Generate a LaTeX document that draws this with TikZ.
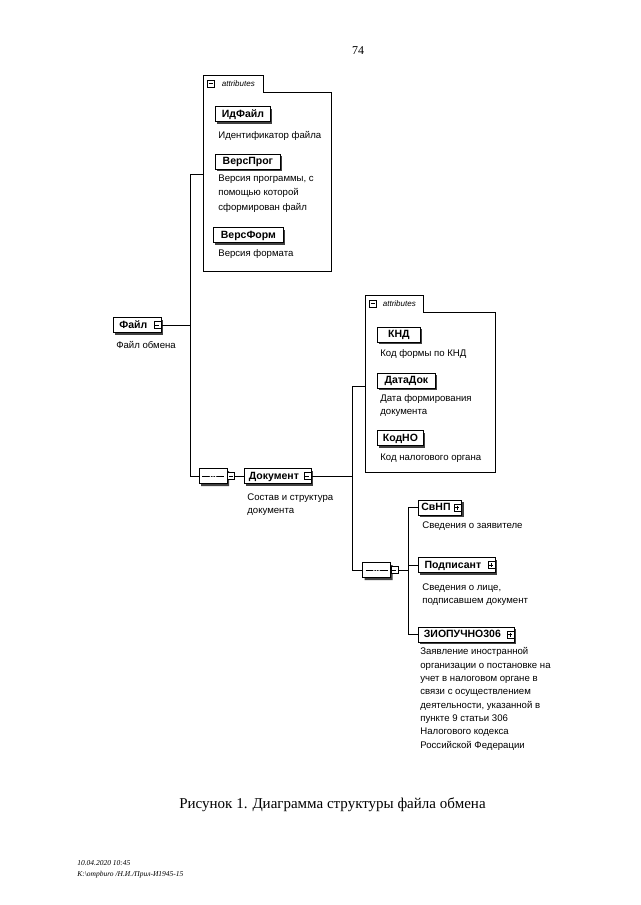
\documentclass[tikz,border=0pt]{standalone}
\usepackage{fontspec}
\setmainfont{Liberation Serif}
\newfontfamily\diagfont{Liberation Sans}
\usetikzlibrary{shapes.misc,shadows}
\begin{document}
\begin{tikzpicture}[x=1pt,y=-1pt,line width=0.7pt,
  elem/.style={draw, fill=white, font=\diagfont\bfseries\fontsize{10.5}{12}\selectfont, inner xsep=3pt, inner ysep=0pt, text height=8.3pt, text depth=1.5pt, minimum height=15pt, anchor=west, line width=0.8pt, drop shadow={shadow xshift=2pt,shadow yshift=-2pt,fill=black!75,opacity=1}},
  desc/.style={font=\diagfont\fontsize{9.6}{13.5}\selectfont, align=left, anchor=base west, inner sep=0pt},
  icon/.style={draw, fill=white, minimum size=7pt, inner sep=0pt, line width=0.5pt},
  minusicon/.style={icon, path picture={\draw[line width=0.5pt] ([xshift=1.5pt]path picture bounding box.west) -- ([xshift=-1.5pt]path picture bounding box.east);}},
  plusicon/.style={icon, path picture={\draw[line width=0.5pt] ([xshift=1.5pt]path picture bounding box.west) -- ([xshift=-1.5pt]path picture bounding box.east) ([yshift=-1.5pt]path picture bounding box.north) -- ([yshift=1.5pt]path picture bounding box.south);}},
  grp/.style={anchor=north west, inner sep=0pt},
  tab/.style={anchor=south west, inner sep=0pt, minimum height=16pt, font=\diagfont\itshape\fontsize{8}{9}\selectfont},
  grpline/.style={line width=0.7pt},
  seq/.style={chamfered rectangle, chamfered rectangle xsep=4pt, draw, fill=white, minimum width=28pt, minimum height=15pt, inner sep=0pt, line width=0.8pt, drop shadow={shadow xshift=2pt,shadow yshift=-2.5pt,fill=black!75,opacity=1}, path picture={\draw[line width=0.5pt] ([xshift=3pt]path picture bounding box.west) -- ([xshift=-3pt]path picture bounding box.east); \foreach \d in {-2.6,0,2.6} \fill ([xshift=\d pt]path picture bounding box.center) circle (0.9pt);}},
  conn/.style={line width=0.7pt}
]
\useasboundingbox[fill=white] (0,0) rectangle (640,905);

% page number
\node[font=\fontsize{12}{14}\selectfont, anchor=base] (pnum) at (358,54) {74};

% ---- attributes group 1
\node[grp, minimum width=128pt, minimum height=179pt] (attr1) at (203,92) {};
\node[tab, minimum width=60pt] (tab1) at (attr1.north west) {\hspace{12pt}attributes\kern2pt};
\draw[grpline] (attr1.south west) -- (tab1.north west) -- (tab1.north east) -- (tab1.south east) -- (attr1.north east) -- (attr1.south east) -- cycle;
\node[minusicon] (tab1ic) at ([xshift=7.5pt]tab1.west) {};

\node[elem, minimum width=55pt] (idf) at (215,114) {ИдФайл};
\node[desc] (idfd) at (218,138) {Идентификатор файла};
\node[elem, minimum width=65pt] (vp) at (215,161.5) {ВерсПрог};
\node[desc, font=\diagfont\fontsize{9.6}{14.5}\selectfont] (vpd) at (218,210) {Версия программы, с\\помощью которой\\сформирован файл};
\node[elem, minimum width=70pt] (vf) at (213,235) {ВерсФорм};
\node[desc] (vfd) at (218,256) {Версия формата};

% ---- root element
\node[elem, minimum width=48pt] (file) at (113,325) {Файл\kern8pt};
\node[minusicon] (fileic) at ([xshift=-4.5pt]file.east) {};
\node[desc] (filed) at (116,348) {Файл обмена};

\coordinate (b1top) at (190,174);
\coordinate (b1bot) at (190,476);
\draw[conn] (b1top) -- (b1top -| attr1.west);
\draw[conn] (fileic.east) -- (fileic.east -| b1top);

% ---- sequence 1 and Документ
\node[seq] (seq1) at (213,476) {};
\node[minusicon] (seq1ic) at ([xshift=3.5pt]seq1.east) {};
\draw[conn] (b1top) -- (b1bot) -- (seq1.west);

\node[elem, minimum width=67pt] (doc) at (244,476) {Документ\kern8pt};
\node[minusicon] (docic) at ([xshift=-4.5pt]doc.east) {};
\draw[conn] (seq1ic.east) -- (doc.west);
\node[desc] (docd) at (247,513.5) {Состав и структура\\документа};

% ---- attributes group 2
\node[grp, minimum width=130pt, minimum height=160pt] (attr2) at (365,312) {};
\node[tab, minimum width=58pt] (tab2) at (attr2.north west) {\hspace{12pt}attributes\kern2pt};
\draw[grpline] (attr2.south west) -- (tab2.north west) -- (tab2.north east) -- (tab2.south east) -- (attr2.north east) -- (attr2.south east) -- cycle;
\node[minusicon] (tab2ic) at ([xshift=7.5pt]tab2.west) {};

\node[elem, minimum width=43pt] (knd) at (377,334.5) {КНД};
\node[desc] (kndd) at (380,356) {Код формы по КНД};
\node[elem, minimum width=58pt] (dd) at (377,380.5) {ДатаДок};
\node[desc] (ddd) at (380,414.5) {Дата формирования\\документа};
\node[elem, minimum width=46pt] (kno) at (377,438) {КодНО};
\node[desc] (knod) at (380,460) {Код налогового органа};

\coordinate (b2top) at (352,386);
\coordinate (b2bot) at (352,570);
\draw[conn] (docic.east) -- (docic.east -| b2top);
\draw[conn] (b2top) -- (b2top -| attr2.west);

% ---- sequence 2
\node[seq] (seq2) at (376.5,570) {};
\node[minusicon] (seq2ic) at ([xshift=3.5pt]seq2.east) {};
\draw[conn] (b2top) -- (b2bot) -- (seq2.west);

\coordinate (b3top) at (408,507.5);
\coordinate (b3bot) at (408,634.5);
\draw[conn] (seq2ic.east) -- (seq2ic.east -| b3top);

\node[elem, minimum width=42pt] (svnp) at (418,507.5) {СвНП\kern8pt};
\node[plusicon] (svnpic) at ([xshift=-4.5pt]svnp.east) {};
\node[desc] (svnpd) at (422,528) {Сведения о заявителе};

\node[elem, minimum width=77pt] (podp) at (418,565) {Подписант\kern8pt};
\node[plusicon] (podpic) at ([xshift=-4.5pt]podp.east) {};
\node[desc] (podpd) at (422,603.5) {Сведения о лице,\\подписавшем документ};

\node[elem, minimum width=96pt] (ziop) at (418,634.5) {ЗИОПУЧНО306\kern8pt};
\node[plusicon] (ziopic) at ([xshift=-4.5pt]ziop.east) {};
\node[desc, font=\diagfont\fontsize{9.6}{13.3}\selectfont] (ziopd) at (420,748) {Заявление иностранной\\организации о постановке на\\учет в налоговом органе в\\связи с осуществлением\\деятельности, указанной в\\пункте 9 статьи 306\\Налогового кодекса\\Российской Федерации};

\draw[conn] (b3top) -- (b3bot);
\draw[conn] (b3top) -- (svnp.west);
\draw[conn] (podp.west -| b3top) -- (podp.west);
\draw[conn] (b3bot) -- (ziop.west);

% ---- caption and footer
\node[font=\fontsize{15}{18}\selectfont, anchor=base] (cap) at (332.5,808) {Рисунок 1. Диаграмма структуры файла обмена};
\node[font=\itshape\fontsize{7.5}{11}\selectfont, align=left, anchor=base west, inner sep=0pt] (foot) at (77,876) {10.04.2020 10:45\\К:\textbackslash ompburo /Н.И./Прил-И1945-15};
\end{tikzpicture}
\end{document}
